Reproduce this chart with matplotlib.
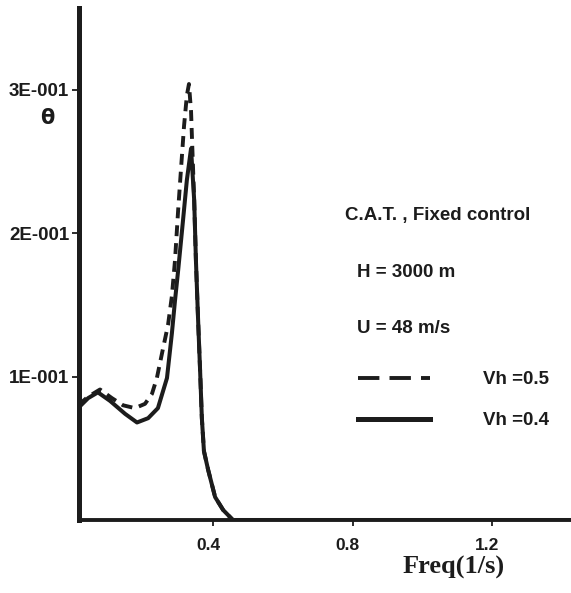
import matplotlib
matplotlib.use("Agg")
import matplotlib.pyplot as plt
import matplotlib.transforms as mtransforms
from matplotlib.lines import Line2D

# ---- data ----
freq_vh04 = [0.013, 0.042, 0.070, 0.105, 0.148, 0.182, 0.214, 0.242, 0.268, 0.282,
             0.291, 0.300, 0.314, 0.325, 0.337, 0.346, 0.351, 0.357, 0.363, 0.368,
             0.374, 0.386, 0.406, 0.429, 0.457, 0.60, 0.80, 1.00, 1.20, 1.43]
theta_vh04 = [0.078, 0.085, 0.089, 0.083, 0.074, 0.068, 0.071, 0.078, 0.099, 0.130,
              0.153, 0.174, 0.209, 0.237, 0.259, 0.223, 0.181, 0.141, 0.104, 0.071,
              0.048, 0.035, 0.016, 0.007, 0.0, 0.0, 0.0, 0.0, 0.0, 0.0]

freq_vh05 = [0.013, 0.042, 0.076, 0.110, 0.142, 0.176, 0.205, 0.225, 0.239, 0.257,
             0.271, 0.282, 0.291, 0.300, 0.308, 0.317, 0.325, 0.331, 0.337, 0.340,
             0.346, 0.351, 0.357, 0.363, 0.368, 0.374, 0.386, 0.406, 0.429, 0.457]
theta_vh05 = [0.080, 0.086, 0.091, 0.085, 0.080, 0.078, 0.081, 0.088, 0.099, 0.120,
              0.136, 0.156, 0.181, 0.216, 0.244, 0.275, 0.296, 0.304, 0.285, 0.264,
              0.223, 0.181, 0.141, 0.104, 0.071, 0.048, 0.035, 0.016, 0.007, 0.0]

x_ticks = [0.4, 0.8, 1.2]
x_tick_labels = ["0.4", "0.8", "1.2"]
y_ticks = [0.1, 0.2, 0.3]
y_tick_labels = ["1E-001", "2E-001", "3E-001"]
annotations = ["C.A.T. , Fixed control", "H = 3000 m", "U = 48 m/s"]
series_labels = ["Vh =0.5", "Vh =0.4"]

narrow = ["Liberation Sans Narrow", "Liberation Sans", "DejaVu Sans"]
serif = ["Liberation Serif", "DejaVu Serif"]
ink = "#1c1c1c"

fig = plt.figure(figsize=(5.71, 5.93), dpi=100)
fig.patch.set_facecolor("white")
ax = fig.add_axes([0.1384, 0.1231, 0.8616, 0.8634])

ax.plot(freq_vh04, theta_vh04, color=ink, lw=2.9, solid_joinstyle="round")
ax.plot(freq_vh05, theta_vh05, color=ink, lw=2.8, linestyle=(0, (2.8, 1.8)))

ax.set_xlim(0.0158, 1.4265)
ax.set_ylim(0, 0.357)

for s in ["top", "right"]:
    ax.spines[s].set_visible(False)
ax.spines["left"].set_linewidth(3.6)
ax.spines["bottom"].set_linewidth(2.8)
ax.spines["left"].set_color(ink)
ax.spines["bottom"].set_color(ink)

ax.set_xticks(x_ticks)
ax.set_xticklabels(x_tick_labels, fontfamily=narrow, fontweight="bold", fontsize=12.5, color=ink)
ax.set_yticks(y_ticks)
ax.set_yticklabels(y_tick_labels, fontfamily=narrow, fontweight="bold", fontsize=13.5, color=ink)
ax.tick_params(axis="y", length=5, width=1.3, color=ink, pad=2)
ax.tick_params(axis="x", length=4, width=1.3, color=ink, pad=9)
shift = mtransforms.ScaledTranslation(-5 / 100, 0, fig.dpi_scale_trans)
for lab in ax.get_xticklabels():
    lab.set_transform(lab.get_transform() + shift)

ax.text(-0.065, 0.785, "θ", transform=ax.transAxes, ha="center", va="center",
        fontsize=15, fontweight="bold", fontfamily=["DejaVu Sans"], color=ink)
ax.text(0.762, -0.092, "Freq(1/s)", transform=ax.transAxes, ha="center", va="center",
        fontsize=19, fontweight="bold", fontfamily=serif, color=ink)

ann_x = [0.541, 0.565, 0.565]
ann_y = [0.594, 0.484, 0.375]
for t, xx, yy in zip(annotations, ann_x, ann_y):
    ax.text(xx, yy, t, transform=ax.transAxes, ha="left", va="center",
            fontsize=13.5, fontweight="bold", fontfamily=narrow, color=ink)

handles = [Line2D([], [], color=ink, lw=2.8, linestyle=(0, (5.5, 2.6))),
           Line2D([], [], color=ink, lw=3.6)]
leg = ax.legend(handles, series_labels, loc="upper left", bbox_to_anchor=(0.533, 0.324),
                frameon=False, handlelength=3.85, handletextpad=2.8, labelspacing=1.28,
                prop={"family": narrow, "weight": "bold", "size": 13.5})
for t in leg.get_texts():
    t.set_color(ink)

fig.savefig("out.png", dpi=100, facecolor="white")
